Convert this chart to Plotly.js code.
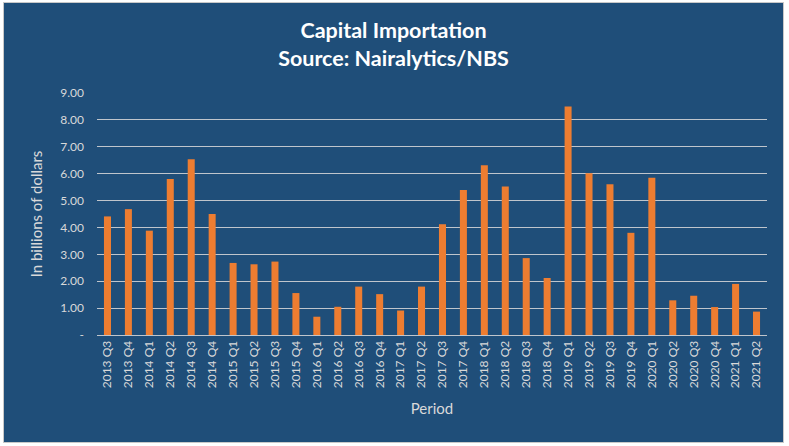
<!DOCTYPE html>
<html>
<head>
<meta charset="utf-8">
<script src="https://cdn.plot.ly/plotly-3.0.1.min.js"></script>
<style>
  body { margin: 0; background: #ffffff; }
  #chart { position: absolute; left: 3px; top: 2px; width: 779px; height: 439px; border: 1px solid #c8c8c8; }
</style>
</head>
<body>
<div id="chart"></div>
<script>
// quarters shown on the x axis
const periods = [
    '2013 Q3', '2013 Q4',
    '2014 Q1', '2014 Q2', '2014 Q3', '2014 Q4',
    '2015 Q1', '2015 Q2', '2015 Q3', '2015 Q4',
    '2016 Q1', '2016 Q2', '2016 Q3', '2016 Q4',
    '2017 Q1', '2017 Q2', '2017 Q3', '2017 Q4',
    '2018 Q1', '2018 Q2', '2018 Q3', '2018 Q4',
    '2019 Q1', '2019 Q2', '2019 Q3', '2019 Q4',
    '2020 Q1', '2020 Q2', '2020 Q3', '2020 Q4',
    '2021 Q1', '2021 Q2'
];

// capital importation, billions of dollars
const capitalImported = [
    4.41, 4.68,
    3.88, 5.80, 6.54, 4.50,
    2.68, 2.63, 2.73, 1.56,
    0.68, 1.05, 1.80, 1.52,
    0.91, 1.80, 4.12, 5.39,
    6.31, 5.52, 2.86, 2.12,
    8.50, 6.02, 5.61, 3.80,
    5.85, 1.29, 1.46, 1.04,
    1.90, 0.87
];

// y axis ticks (excel accounting style: zero shown as a dash)
const yTickVals = [0, 1, 2, 3, 4, 5, 6, 7, 8, 9];
const yTickText = ['-', '1.00', '2.00', '3.00', '4.00', '5.00', '6.00', '7.00', '8.00', '9.00'];

const navy = '#1f4e79';
const orange = '#ed7d31';
const gridGray = '#bfc5cc';
const labelGray = '#d9d9d9';
const fontFamily = 'Lato, "Open Sans", sans-serif';

const traces = [{
    type: 'bar',
    x: periods,
    y: capitalImported,
    marker: { color: orange, line: { width: 0 } },
    hoverinfo: 'x+y'
}];

const layout = {
    width: 779,
    height: 439,
    paper_bgcolor: navy,
    plot_bgcolor: navy,
    margin: { l: 93, r: 16, t: 90, b: 107 },
    bargap: 0.665,
    showlegend: false,
    font: { family: fontFamily, color: labelGray },
    title: {
        text: '<b>Capital Importation<br>Source: Nairalytics/NBS</b>',
        font: { family: fontFamily, size: 21.5, color: '#ffffff' },
        x: 0.5,
        xanchor: 'center',
        y: 0.921,
        yref: 'container',
        yanchor: 'middle'
    },
    xaxis: {
        type: 'category',
        tickangle: -90,
        tickfont: { size: 12, color: labelGray },
        showgrid: false,
        showline: true,
        linecolor: gridGray,
        linewidth: 1,
        ticks: '',
        title: { text: 'Period', font: { size: 15, color: labelGray }, standoff: 16 }
    },
    yaxis: {
        range: [0, 9],
        tickvals: yTickVals,
        ticktext: yTickText,
        tickfont: { size: 12, color: labelGray },
        ticklabelstandoff: 12,
        showgrid: true,
        gridcolor: gridGray,
        gridwidth: 1,
        zeroline: false,
        showline: false,
        ticks: '',
        title: { text: 'In billions of dollars', font: { size: 15, color: labelGray }, standoff: 14 }
    }
};

const config = { displayModeBar: false, staticPlot: true };

Plotly.newPlot('chart', traces, layout, config);
</script>
</body>
</html>
